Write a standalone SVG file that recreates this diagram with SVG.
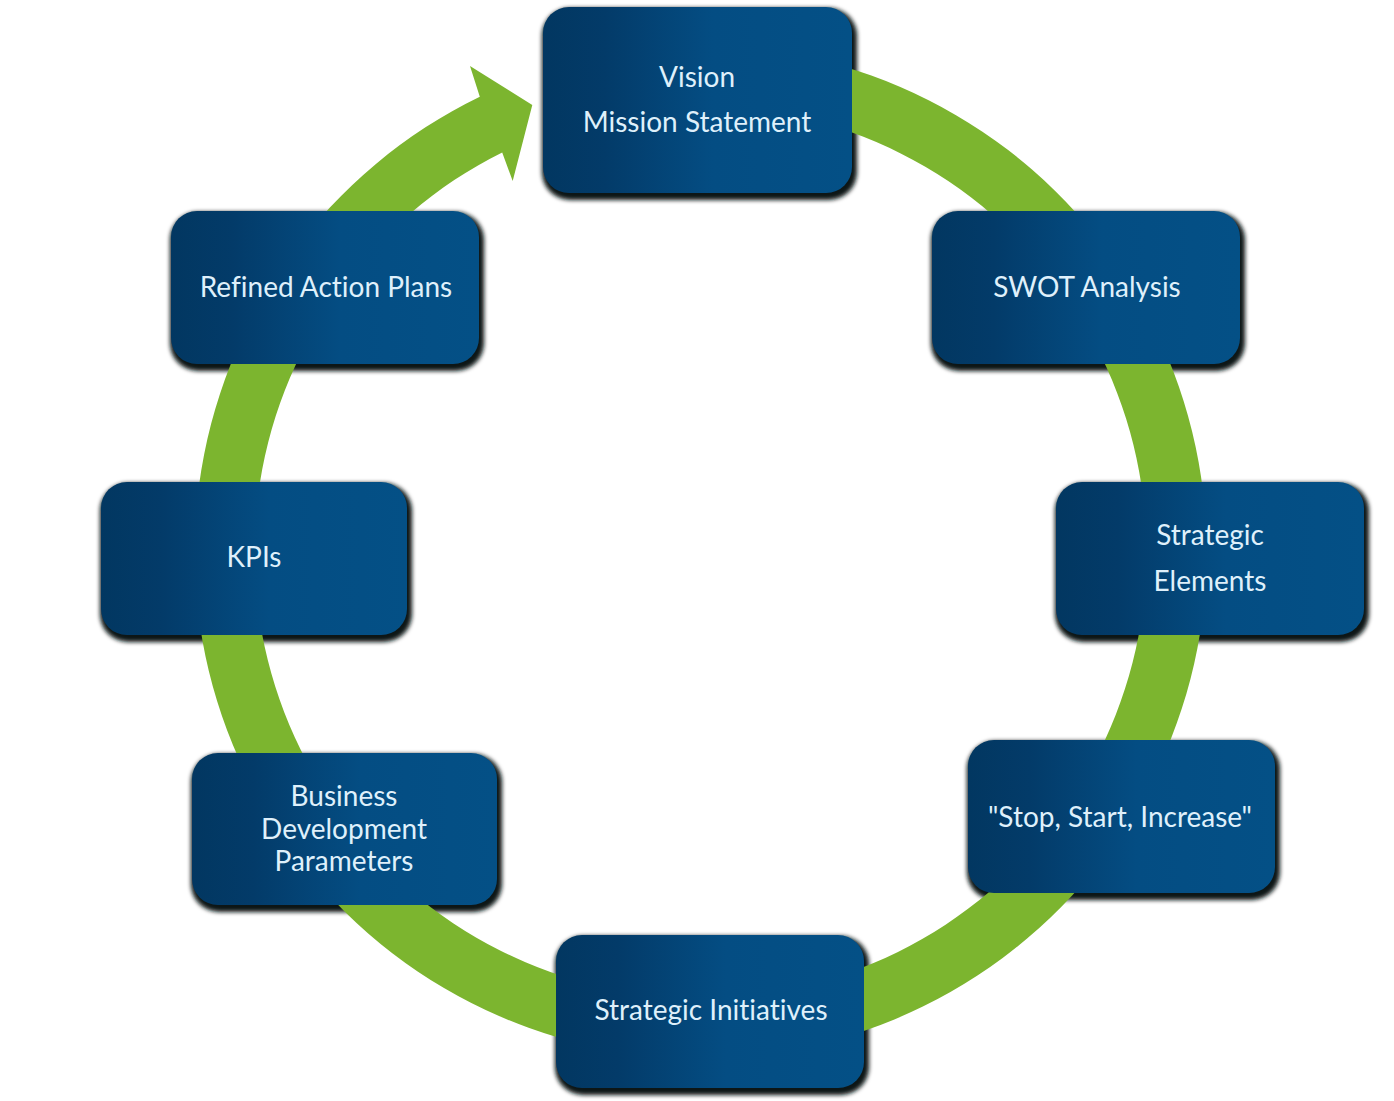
<svg xmlns="http://www.w3.org/2000/svg" width="1394" height="1101" viewBox="0 0 1394 1101">
  <defs>
    <linearGradient id="boxGrad" x1="0" y1="0" x2="1" y2="0">
      <stop offset="0" stop-color="#023761"/>
      <stop offset="0.2" stop-color="#033b69"/>
      <stop offset="0.55" stop-color="#044d83"/>
      <stop offset="1" stop-color="#045086"/>
    </linearGradient>
    <filter id="shadowBlur" x="-10%" y="-10%" width="120%" height="130%">
      <feGaussianBlur stdDeviation="2.2"/>
    </filter>
  </defs>
  <style>
    .shadow { fill: #071515; filter: url(#shadowBlur); }
    .box { fill: url(#boxGrad); }
    .label { font-family: Lato, "Open Sans", "Liberation Sans", sans-serif; font-size: 28px; fill: #dff0fb; text-anchor: middle; font-variant-ligatures: none; }
    .ring { fill: #7cb52f; }
  </style>
  <rect width="1394" height="1101" fill="#ffffff"/>

  <g id="shadows">
    <rect class="shadow" x="542" y="8" width="315" height="192" rx="28"/>
    <rect class="shadow" x="931" y="212" width="314" height="159" rx="28"/>
    <rect class="shadow" x="1055" y="483" width="314" height="159" rx="28"/>
    <rect class="shadow" x="967" y="741" width="313" height="159" rx="28"/>
    <rect class="shadow" x="555" y="936" width="314" height="159" rx="28"/>
    <rect class="shadow" x="191" y="754" width="311" height="158" rx="28"/>
    <rect class="shadow" x="100" y="483" width="312" height="159" rx="28"/>
    <rect class="shadow" x="170" y="212" width="314" height="159" rx="28"/>
  </g>

  <g id="connectors">
    <path class="ring" d="M 656.4 47.9 A 506 506 0 1 1 479.8 96.7 L 470 66 L 532.3 105 L 512.7 181 L 502.2 152.5 A 446 446 0 1 0 661.6 107.7 Z"/>
  </g>

  <g id="node-vision">
    <rect class="box" x="543" y="7" width="309" height="186" rx="26"/>
    <text class="label" x="697" y="87">Vision</text>
    <text class="label" x="697" y="132">Mission Statement</text>
  </g>
  <g id="node-swot">
    <rect class="box" x="932" y="211" width="308" height="153" rx="26"/>
    <text class="label" x="1087" y="297">SWOT Analysis</text>
  </g>
  <g id="node-strategic-elements">
    <rect class="box" x="1056" y="482" width="308" height="153" rx="26"/>
    <text class="label" x="1210" y="545">Strategic</text>
    <text class="label" x="1210" y="591">Elements</text>
  </g>
  <g id="node-stop-start-increase">
    <rect class="box" x="968" y="740" width="307" height="153" rx="26"/>
    <text class="label" x="1120" y="827">"Stop, Start, Increase"</text>
  </g>
  <g id="node-strategic-initiatives">
    <rect class="box" x="556" y="935" width="308" height="153" rx="26"/>
    <text class="label" x="711" y="1020">Strategic Initiatives</text>
  </g>
  <g id="node-business-development">
    <rect class="box" x="192" y="753" width="305" height="152" rx="26"/>
    <text class="label" x="344" y="806">Business</text>
    <text class="label" x="344" y="839">Development</text>
    <text class="label" x="344" y="871">Parameters</text>
  </g>
  <g id="node-kpis">
    <rect class="box" x="101" y="482" width="306" height="153" rx="26"/>
    <text class="label" x="254" y="567">KPIs</text>
  </g>
  <g id="node-refined-action-plans">
    <rect class="box" x="171" y="211" width="308" height="153" rx="26"/>
    <text class="label" x="326" y="297">Refined Action Plans</text>
  </g>
</svg>
